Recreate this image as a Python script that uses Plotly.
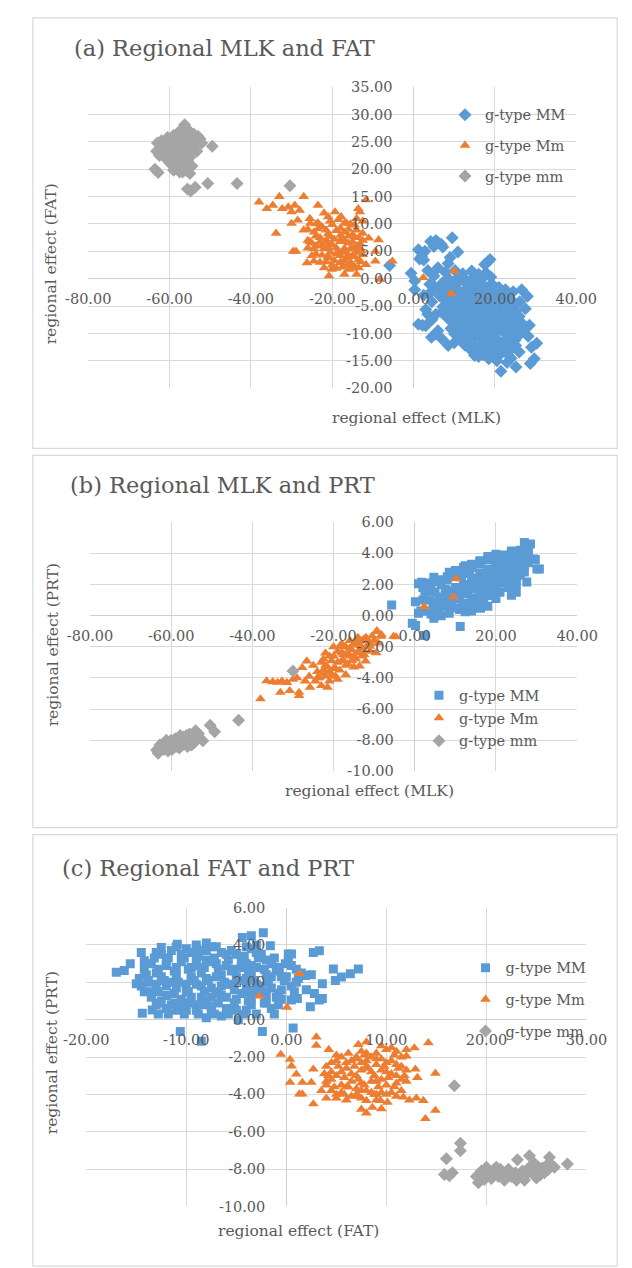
import plotly.graph_objects as go

W, H = 632, 1268

# ---------------- data ----------------
groups = ["g-type MM", "g-type Mm", "g-type mm"]

# panel (a): (MLK, FAT)
a_MM = [(1.2, 5.3), (2.0, 4.1), (2.8, 5.0), (1.5, 3.6), (2.5, 3.4), (4.2, 6.8), (5.5, 7.0), (6.8, 6.3),
        (5.0, 5.9), (7.2, 5.8), (6.0, 6.6), (9.5, 7.5), (10.9, 4.9), (9.0, 3.9), (8.5, 2.8), (-0.6, 1.0),
        (0.3, -0.4), (0.3, -2.0), (-5.9, 2.4), (1.2, -8.3), (2.2, -8.5), (3.0, -8.6), (4.4, -10.7),
        (5.5, -10.1), (3.0, -5.6), (3.5, -6.5), (4.5, -4.2), (2.5, -3.0), (5.2, -1.5), (4.0, -2.6),
        (18.3, 3.1), (18.8, 3.5), (17.5, 2.6), (21.5, -16.9), (25.2, -16.1), (28.7, -15.5), (29.7, -14.6),
        (30.3, -11.8), (29.0, -12.5), (28.0, -3.2), (26.6, -2.0), (27.5, -5.5), (28.5, -8.5), (27.0, -9.5),
        (28.2, -10.5), (20.5, -15.0), (23.0, -15.3), (18.5, -14.6), (16.0, -14.2), (26.0, -13.4),
        (24.0, -14.5), (6.0, -9.5), (7.0, -11.0), (8.5, -12.2), (10.0, -11.7),
        (7.8, 1.2), (10.2, 1.5), (12.1, 0.9), (14.3, 1.4), (16.0, 0.8), (17.8, 1.1),
        (7.1, -0.8), (9.2, -1.2), (11.0, -0.6), (13.2, -1.1), (15.1, -0.7), (17.3, -1.3), (19.2, -0.9), (21.0, -1.6),
        (6.4, -3.1), (8.5, -2.8), (10.3, -3.3), (12.2, -2.9), (14.0, -3.4), (16.1, -2.8), (18.0, -3.2),
        (20.2, -2.7), (22.3, -3.1), (24.5, -2.4),
        (7.2, -5.1), (9.1, -4.8), (11.2, -5.3), (13.0, -4.9), (15.2, -5.2), (17.1, -4.7), (19.0, -5.4),
        (21.1, -4.9), (23.2, -5.2), (25.0, -4.6),
        (8.1, -7.0), (10.0, -7.3), (12.3, -6.8), (14.1, -7.2), (16.2, -6.9), (18.1, -7.4), (20.0, -6.8),
        (22.2, -7.1), (24.1, -7.3), (26.0, -6.9),
        (9.2, -9.1), (11.1, -8.8), (13.0, -9.3), (15.1, -8.9), (17.0, -9.2), (19.2, -8.8), (21.1, -9.3),
        (23.0, -8.9), (25.2, -9.0),
        (11.2, -11.0), (13.1, -11.3), (15.0, -10.8), (17.2, -11.2), (19.1, -10.9), (21.0, -11.4),
        (23.1, -10.8), (25.0, -11.2),
        (14.1, -13.0), (16.2, -12.8), (18.0, -13.3), (20.1, -12.9), (22.0, -13.2), (24.1, -12.7),
        (9.0, -2.0), (11.5, -4.0), (13.5, -6.0), (15.5, -8.0), (17.5, -10.0), (19.5, -12.0), (12.5, 0.0),
        (16.5, -2.0), (18.5, -6.0), (20.5, -8.0), (22.5, -10.0), (14.5, -4.0), (10.5, -6.0), (12.0, -8.0),
        (16.0, -10.5), (21.5, -6.0), (23.5, -7.5),
        (8.5, 0.1), (10.6, -0.1), (14.6, 0.2), (16.6, -0.2), (19.0, 0.3),
        (7.6, -2.1), (10.6, -1.8), (12.6, -2.2), (14.4, -1.9), (18.6, -2.1), (20.4, -1.8), (22.6, -2.0),
        (8.0, -4.1), (10.1, -3.9), (12.6, -4.2), (16.0, -3.9), (18.1, -4.2), (20.0, -3.8), (22.1, -4.1),
        (24.0, -3.9), (26.1, -4.2),
        (7.0, -6.1), (9.1, -5.9), (11.6, -6.2), (15.5, -6.1), (17.0, -5.8), (19.6, -6.2), (23.0, -6.0),
        (25.1, -5.9),
        (9.6, -8.1), (11.0, -7.8), (13.6, -8.2), (17.5, -7.9), (19.1, -8.1), (22.0, -7.9), (24.6, -8.2),
        (26.5, -8.0),
        (10.1, -10.1), (12.1, -9.9), (14.1, -10.2), (18.6, -10.0), (20.1, -10.1), (24.0, -9.9), (26.1, -10.2),
        (12.6, -12.1), (14.6, -11.9), (16.6, -12.2), (18.6, -11.9), (21.0, -12.1), (23.0, -12.0), (25.1, -12.2),
        (15.0, -14.0), (17.1, -13.9), (19.0, -14.1), (21.0, -14.0), (23.1, -13.8),
        (3.5, 1.5), (5.0, 0.5), (6.0, 2.0), (4.0, -1.0), (6.5, -2.0), (5.5, -6.5), (4.5, -7.5)]

a_Mm = [(-38.0, 14.0), (-36.1, 12.8), (-34.6, 13.4), (-33.0, 15.0), (-27.0, 15.0), (-32.3, 12.8),
        (-30.8, 13.1), (-29.2, 13.4), (-30.0, 12.2), (-28.0, 12.5), (-33.8, 8.3), (-30.0, 10.1),
        (-28.5, 10.7), (-29.6, 5.0), (-28.9, 5.0), (-26.2, 2.9), (-27.0, 8.9), (-25.4, 10.1), (-23.5, 13.4),
        (-20.8, 0.5), (-19.3, 12.2), (-17.8, 11.3), (-13.6, 12.8), (-13.2, 12.2), (-11.7, 14.4),
        (-12.5, 8.3), (-11.0, 7.4), (-8.6, 7.1), (-9.4, 5.0), (-11.7, 2.6), (-9.4, 3.2), (-5.2, 3.2),
        (-14.0, 0.8), (-17.0, 0.8), (-20.1, 1.7), (-15.9, 1.7), (-8.3, -0.1), (-17.8, 2.9), (-22.0, 12.0),
        (-25.5, 11.0), (-24.0, 6.0), (-26.0, 7.0), (2.4, 0.2), (10.0, 1.4), (9.3, -2.7),
        (-24.5, 8.5), (-22.5, 9.5), (-20.5, 10.5), (-18.5, 10.8), (-16.5, 10.2), (-14.5, 9.8),
        (-25.0, 6.5), (-23.0, 7.5), (-21.0, 8.2), (-19.0, 8.8), (-17.0, 8.5), (-15.0, 8.0), (-13.5, 7.5),
        (-24.0, 4.5), (-22.0, 5.5), (-20.0, 6.2), (-18.0, 6.8), (-16.0, 6.5), (-14.0, 6.0), (-12.8, 5.2),
        (-23.0, 3.0), (-21.0, 3.8), (-19.0, 4.5), (-17.0, 4.8), (-15.0, 4.2), (-13.5, 3.5),
        (-20.0, 2.5), (-18.0, 3.0), (-16.0, 2.5), (-14.5, 2.2),
        (-21.5, 7.0), (-19.5, 7.2), (-17.5, 7.5), (-15.5, 5.5), (-18.5, 5.0), (-22.5, 6.0), (-20.5, 4.8),
        (-16.5, 3.8), (-14.0, 4.8), (-12.5, 10.5), (-14.0, 11.0), (-21.0, 11.3), (-23.5, 10.2),
        (-24.0, 10.0), (-20.0, 9.9), (-17.0, 10.1), (-15.5, 10.0),
        (-26.0, 9.0), (-23.5, 9.1), (-21.5, 8.9), (-18.0, 9.2), (-16.0, 9.0), (-14.0, 8.9),
        (-24.0, 7.8), (-20.5, 7.7), (-18.0, 7.9), (-16.0, 7.8), (-14.5, 7.6), (-12.5, 7.0),
        (-25.5, 6.8), (-23.0, 6.7), (-21.0, 6.5), (-17.0, 6.9), (-15.0, 6.7), (-13.2, 6.4),
        (-26.0, 5.6), (-24.5, 5.5), (-21.0, 5.7), (-19.0, 5.6), (-17.0, 5.5), (-15.0, 5.4), (-13.5, 5.7),
        (-25.0, 4.2), (-22.5, 4.3), (-21.0, 4.1), (-18.0, 4.2), (-16.0, 4.3), (-14.5, 4.0), (-12.5, 4.4),
        (-24.5, 3.2), (-21.5, 3.1), (-19.5, 3.3), (-17.0, 3.2), (-15.5, 3.0), (-13.0, 3.1),
        (-22.0, 2.0), (-19.0, 1.9), (-17.5, 2.1), (-15.0, 1.9), (-13.5, 2.0)]

a_mm = [(-56.3, 28.1), (-57.5, 27.0), (-55.5, 27.2), (-54.0, 26.4), (-53.0, 26.0), (-52.5, 25.5),
        (-63.2, 23.3), (-63.0, 24.8), (-62.0, 25.2), (-60.5, 25.8), (-59.0, 26.2), (-58.0, 25.5),
        (-56.5, 25.0), (-55.0, 25.5), (-54.5, 24.5), (-62.5, 22.5), (-61.5, 23.8), (-60.0, 24.2),
        (-58.5, 24.0), (-57.0, 23.5), (-55.5, 23.0), (-53.3, 23.3), (-61.0, 22.0), (-59.5, 22.8),
        (-58.0, 22.2), (-56.0, 22.5), (-52.1, 24.8), (-49.5, 24.2), (-63.6, 20.0), (-62.8, 19.4),
        (-59.8, 21.0), (-58.5, 21.3), (-57.0, 21.0), (-55.5, 21.4), (-54.5, 20.6), (-59.0, 19.8),
        (-57.5, 19.5), (-56.0, 19.8), (-55.0, 19.2), (-58.0, 20.3), (-56.5, 20.5), (-55.6, 16.4),
        (-54.8, 16.0), (-53.7, 16.7), (-50.6, 17.4), (-43.4, 17.4), (-30.4, 17.0),
        (-60.8, 24.8), (-59.5, 25.0), (-57.5, 24.8), (-56.0, 24.0), (-54.0, 23.8), (-62.0, 24.0),
        (-60.5, 23.0), (-58.5, 23.2), (-57.0, 22.4), (-55.0, 22.2), (-60.0, 21.8), (-58.8, 20.0),
        (-56.8, 19.5), (-55.8, 20.8), (-57.5, 26.0), (-56.0, 26.5), (-55.0, 26.8), (-54.0, 25.2)]

# panel (b): (MLK, PRT)
b_MM = [(-5.7, 0.68), (-0.6, -0.49), (0.2, -0.63), (2.4, -1.27), (11.2, -0.70), (30.1, 3.0), (29.7, 3.6),
        (25.0, 1.5), (25.0, 2.2), (30.7, 3.0), (29.2, 3.64), (0.9, 2.05), (0.15, 0.89), (0.9, 0.15),
        (4.7, -0.17), (1.7, 2.15), (2.5, 1.4), (3.0, 0.3), (4.7, 2.47), (8.5, 2.79), (12.4, 3.21),
        (16.2, 3.53), (20.0, 3.95), (23.8, 4.16), (27.6, 4.5), (27.0, 4.7), (28.5, 4.6), (8.5, 0.15),
        (12.4, 0.25), (16.2, 0.47), (20.0, 1.1), (23.8, 1.31), (27.6, 2.16), (6.5, 0.0), (14.0, 0.3),
        (18.0, 0.6),
        (3.5, 1.0), (5.0, 1.5), (6.5, 2.0), (8.0, 2.3), (10.0, 2.6), (12.0, 2.9), (14.0, 3.1), (16.0, 3.3),
        (18.0, 3.6), (20.0, 3.7), (22.0, 3.9), (24.0, 4.0), (26.0, 4.2),
        (4.5, 0.5), (6.0, 1.0), (8.0, 1.3), (10.0, 1.8), (12.0, 2.0), (14.0, 2.4), (16.0, 2.7), (18.0, 3.0),
        (20.0, 3.2), (22.0, 3.4), (24.0, 3.5), (26.0, 3.6), (28.0, 3.9),
        (7.0, 0.6), (9.0, 0.9), (11.0, 1.2), (13.0, 1.5), (15.0, 1.8), (17.0, 2.1), (19.0, 2.4), (21.0, 2.6),
        (23.0, 2.8), (25.0, 3.0), (27.0, 3.2),
        (10.0, 0.5), (12.0, 0.8), (14.0, 1.0), (16.0, 1.3), (18.0, 1.6), (20.0, 1.9), (22.0, 2.1),
        (24.0, 2.4), (26.0, 2.6), (15.0, 0.6), (17.0, 0.9), (19.0, 1.3), (21.0, 1.5), (23.0, 1.8),
        (5.5, 2.2), (7.5, 1.7), (9.5, 1.4), (11.5, 2.5), (13.5, 2.7), (15.5, 2.2), (17.5, 2.6), (19.5, 2.9),
        (21.5, 3.3), (23.5, 3.2), (25.5, 3.8), (3.5, 2.1), (2.0, 1.0), (1.5, 0.3),
        (4.0, 1.8), (6.0, 2.3), (8.0, 2.5), (10.0, 2.9), (12.0, 3.1), (14.0, 3.3), (16.0, 3.5), (18.0, 3.8),
        (20.0, 3.5), (22.0, 3.7), (24.0, 3.8), (26.0, 4.0), (28.0, 4.2), (27.0, 3.7),
        (5.0, 0.9), (7.0, 1.2), (9.0, 1.6), (11.0, 1.6), (13.0, 2.0), (15.0, 2.4), (17.0, 2.4), (19.0, 2.7),
        (21.0, 2.9), (23.0, 3.1), (25.0, 3.3), (27.0, 2.8),
        (8.0, 0.7), (10.0, 1.1), (12.0, 1.4), (14.0, 1.7), (16.0, 1.9), (18.0, 2.2), (20.0, 2.4), (22.0, 2.7),
        (24.0, 2.9), (26.0, 3.1), (28.0, 3.4),
        (11.0, 0.4), (13.0, 0.6), (15.0, 1.1), (17.0, 1.4), (19.0, 1.8), (21.0, 2.1), (23.0, 2.3), (25.0, 2.0),
        (3.0, 1.6), (2.0, 1.8), (4.0, 0.1), (6.0, 0.4)]

b_Mm = [(-38.0, -5.35), (-36.5, -4.19), (-35.0, -4.25), (-33.8, -4.29), (-32.7, -4.2), (-31.5, -4.3),
        (-33.1, -4.93), (-30.8, -4.82), (-28.5, -5.14), (-28.5, -4.93), (-26.6, -2.92), (-27.7, -3.34),
        (-25.8, -4.61), (-30.0, -4.1), (-29.0, -4.0), (-27.0, -4.2), (-26.0, -3.9), (-9.4, -1.02),
        (-8.3, -1.33), (-5.2, -1.33), (-9.0, -1.76), (-12.1, -2.92), (-13.6, -3.24), (-9.3, -0.97),
        (-4.6, -1.37), (-8.2, -1.23), (-9.5, -2.39), (-11.1, -1.97), (2.3, 0.57), (10.2, 2.37), (9.5, 1.2),
        (-25.0, -3.2), (-24.0, -3.6), (-23.0, -3.0), (-22.0, -3.9), (-21.0, -2.6), (-20.0, -3.4),
        (-19.0, -2.3), (-18.0, -2.9), (-17.0, -2.0), (-16.0, -2.6), (-15.0, -1.8), (-14.0, -2.3),
        (-13.0, -1.6), (-12.0, -2.0), (-24.5, -4.2), (-23.5, -4.0), (-22.5, -3.5), (-21.5, -3.3),
        (-20.5, -2.9), (-19.5, -3.9), (-18.5, -3.5), (-17.5, -2.5), (-16.5, -3.1), (-15.5, -2.2),
        (-14.5, -2.8), (-13.5, -1.9), (-12.5, -1.5), (-11.5, -1.6), (-22.0, -2.4), (-20.0, -2.0),
        (-18.0, -1.8), (-16.0, -1.6), (-14.0, -1.4), (-21.0, -4.2), (-19.0, -4.1), (-17.0, -3.8),
        (-15.0, -3.3), (-13.0, -2.6), (-11.0, -2.3), (-10.5, -1.3), (-23.0, -4.5), (-21.5, -4.6),
        (-24.0, -4.0), (-23.0, -3.7), (-22.0, -3.2), (-21.0, -3.6), (-20.0, -2.6), (-19.0, -3.0),
        (-18.0, -2.4), (-17.0, -3.2), (-16.0, -2.1), (-15.0, -2.6), (-14.0, -1.9), (-13.0, -2.1),
        (-12.0, -1.4), (-19.5, -3.4), (-17.5, -2.9), (-15.5, -2.9), (-13.5, -2.4), (-22.5, -2.8),
        (-20.5, -3.8), (-18.5, -2.0), (-16.5, -2.4), (-14.5, -1.6), (-11.0, -1.8), (-12.5, -2.5),
        (-10.0, -1.6)]

b_mm = [(-30.0, -3.55), (-43.4, -6.72), (-50.4, -7.04), (-49.3, -7.46), (-52.2, -8.04), (-63.6, -8.63),
        (-63.2, -8.84), (-62.5, -8.45), (-61.8, -8.6), (-61.0, -8.3), (-60.2, -8.5), (-59.5, -8.2),
        (-58.8, -8.4), (-58.0, -8.1), (-57.2, -8.3), (-56.5, -7.9), (-55.8, -8.1), (-55.0, -7.8),
        (-54.2, -7.9), (-53.5, -7.6), (-53.3, -7.57), (-54.0, -7.4), (-62.8, -8.3), (-61.2, -8.0),
        (-60.0, -8.0), (-59.0, -7.9), (-58.0, -8.5), (-57.0, -7.8), (-56.0, -8.4), (-55.5, -7.6),
        (-54.5, -8.2), (-60.8, -8.7), (-59.8, -8.6), (-57.8, -7.7), (-56.2, -7.7), (-55.0, -8.3),
        (-53.8, -8.0), (-61.5, -8.2), (-59.2, -8.1), (-57.5, -8.0), (-56.8, -8.2)]

# panel (c): (FAT, PRT)
c_MM = [(-17.0, 2.54), (-16.2, 2.63), (-15.6, 2.99), (-15.0, 1.93), (-14.7, 2.2), (-14.5, 3.6),
        (-14.2, 3.16), (-14.4, 0.34), (-13.4, 0.52), (-12.5, 3.87), (-10.9, 4.04), (-10.6, -0.63),
        (-8.5, -1.16), (-4.4, 4.4), (-3.5, 4.5), (-2.3, 4.66), (-1.6, 3.96), (-2.4, -0.63), (0.68, -0.45),
        (0.52, 3.51), (2.7, 3.6), (3.3, 3.69), (4.7, 2.72), (4.9, 2.1), (5.5, 2.28), (6.4, 2.46),
        (7.2, 2.72), (3.6, 1.93), (3.3, 1.05), (3.6, 1.13), (2.4, 0.69), (0.5, 1.05), (1.1, 1.13),
        (1.9, 2.37), (-0.7, 2.72), (-0.1, 2.99), (0.2, 3.51), (-8.0, 4.1), (-9.0, 4.0), (-7.5, 3.9),
        (-4.8, 0.0), (-6.5, 0.2), (-8.0, 0.1), (-3.0, 0.3),
        (-13.5, 1.5), (-13.0, 2.5), (-12.5, 1.0), (-12.0, 3.2), (-11.5, 2.0), (-11.0, 0.5), (-10.5, 3.5),
        (-10.0, 1.5), (-9.5, 2.8), (-9.0, 0.8), (-8.5, 3.7), (-8.0, 2.2), (-7.5, 1.2), (-7.0, 3.0),
        (-6.5, 1.8), (-6.0, 0.6), (-5.5, 2.6), (-5.0, 3.5), (-4.5, 1.4), (-4.0, 2.2), (-3.5, 0.8),
        (-3.0, 2.8), (-2.5, 1.8), (-2.0, 3.2), (-1.5, 2.3), (-1.0, 1.2), (-13.0, 0.8), (-12.0, 1.8),
        (-11.0, 2.8), (-10.0, 3.8), (-10.0, 0.5), (-9.0, 1.9), (-8.0, 3.2), (-8.0, 1.0), (-7.0, 2.3),
        (-6.0, 3.5), (-6.0, 1.2), (-5.0, 0.5), (-4.0, 3.0), (-3.0, 1.5), (-2.0, 0.9), (-1.0, 2.6),
        (-12.5, 3.5), (-11.5, 0.8), (-9.5, 1.2), (-7.5, 0.5), (-5.5, 1.9), (-4.5, 2.8), (-13.8, 2.0),
        (-9.0, 3.3), (-7.0, 1.5), (-3.5, 3.8), (0.0, 2.3), (1.0, 2.0), (2.0, 1.6), (-0.5, 1.6),
        (-13.0, 3.6), (-11.5, 3.7), (-9.5, 3.6), (-8.0, 3.7), (-6.5, 3.6), (-5.5, 3.7), (-3.0, 3.6),
        (-2.5, 3.5), (-13.5, 3.0), (-12.0, 2.9), (-10.5, 3.1), (-9.0, 2.9), (-7.5, 3.1), (-6.0, 2.9),
        (-4.5, 3.1), (-3.5, 2.9), (-1.5, 3.0), (0.5, 2.9), (-14.0, 2.4), (-12.5, 2.3), (-11.0, 2.4),
        (-9.5, 2.3), (-8.5, 2.5), (-6.5, 2.4), (-5.0, 2.3), (-3.5, 2.4), (-2.0, 2.4), (-0.5, 2.3),
        (1.5, 2.5), (2.5, 2.4), (-14.5, 1.8), (-13.0, 1.9), (-11.0, 1.7), (-10.0, 1.9), (-8.5, 1.8),
        (-7.5, 1.7), (-6.0, 1.9), (-4.0, 1.8), (-3.0, 1.9), (-1.5, 1.7), (0.5, 1.8), (-13.5, 1.2),
        (-12.0, 1.3), (-10.5, 1.1), (-8.5, 1.2), (-6.5, 1.3), (-5.0, 1.1), (-3.5, 1.2), (-2.0, 1.3),
        (-0.5, 1.1), (-12.0, 0.6), (-10.5, 0.7), (-9.0, 0.5), (-7.5, 0.7), (-5.5, 0.6), (-4.0, 0.5),
        (-1.5, 0.6),
        (-13.2, 3.3), (-11.8, 3.3), (-10.2, 3.3), (-8.8, 3.4), (-7.2, 3.3), (-5.8, 3.2), (-4.2, 3.4),
        (-2.8, 3.3), (-1.2, 3.3), (0.2, 3.2), (-14.2, 2.7), (-12.8, 2.7), (-11.2, 2.6), (-9.8, 2.7),
        (-8.2, 2.8), (-6.8, 2.7), (-5.2, 2.7), (-3.8, 2.6), (-2.2, 2.7), (-0.8, 2.8), (1.0, 2.7),
        (-13.8, 2.1), (-12.2, 2.1), (-10.8, 2.0), (-9.2, 2.1), (-7.8, 2.1), (-6.2, 2.0), (-4.8, 2.1),
        (-3.2, 2.1), (-1.8, 2.0), (-0.2, 2.1), (1.2, 2.2), (-14.2, 1.5), (-12.8, 1.5), (-11.2, 1.4),
        (-9.8, 1.5), (-8.2, 1.5), (-6.8, 1.4), (-5.2, 1.6), (-3.8, 1.5), (-2.2, 1.5), (-0.8, 1.4),
        (0.8, 1.5), (2.8, 1.4), (-12.8, 0.9), (-11.2, 0.9), (-9.8, 0.9), (-8.2, 0.8), (-6.8, 0.9),
        (-5.2, 0.9), (-3.8, 1.0), (-2.2, 0.9), (-0.8, 0.8), (-11.8, 0.3), (-10.2, 0.3), (-8.8, 0.3),
        (-7.2, 0.3), (-5.8, 0.3), (-4.2, 0.3), (-1.2, 0.3), (-12.8, 0.3), (-11.0, 3.9), (-9.0, 3.8),
        (-7.0, 3.9), (-4.0, 3.9), (-3.0, 4.0)]

c_Mm = [(-0.56, -1.86), (3.0, -0.93), (3.0, -1.38), (0.37, -2.13), (0.52, -2.48), (0.37, -3.36),
        (1.0, -2.92), (1.6, -3.36), (1.3, -3.98), (1.6, -3.98), (2.7, -4.51), (2.5, -3.36), (2.7, -2.65),
        (4.24, -1.6), (7.2, -1.33), (12.8, -1.51), (12.0, -1.6), (14.2, -1.24), (12.0, -1.95),
        (12.9, -2.65), (13.1, -3.1), (14.9, -2.87), (11.7, -4.15), (12.3, -4.3), (13.0, -4.2),
        (13.7, -4.33), (13.9, -5.3), (14.9, -4.86), (7.5, -4.8), (8.0, -5.0), (8.6, -4.7), (8.0, -4.33),
        (9.5, -4.77), (9.4, -4.33), (10.1, -4.42), (1.3, 2.46), (-2.7, 1.26), (0.06, 0.66),
        (3.5, -3.8), (4.0, -2.5), (4.5, -3.2), (5.0, -1.9), (5.0, -4.0), (5.5, -2.8), (6.0, -3.6),
        (6.5, -2.2), (6.5, -4.1), (7.0, -3.0), (7.5, -1.7), (7.5, -3.8), (8.0, -2.5), (8.5, -3.3),
        (9.0, -1.8), (9.0, -4.0), (9.5, -2.7), (10.0, -1.6), (10.0, -3.5), (10.5, -2.2), (11.0, -3.0),
        (11.0, -1.7), (11.5, -3.8), (11.5, -2.5), (4.0, -3.5), (5.0, -3.0), (6.0, -2.6), (7.0, -2.0),
        (8.0, -1.8), (9.0, -2.4), (10.0, -2.8), (6.0, -4.3), (7.0, -4.0), (8.5, -3.9), (10.5, -3.9),
        (3.8, -2.9), (5.5, -3.5), (7.5, -2.7), (9.5, -3.2), (11.0, -3.4), (12.0, -3.3), (8.0, -1.2),
        (9.5, -1.4), (10.5, -1.5),
        (5.5, -2.0), (7.0, -2.1), (8.5, -2.0), (9.5, -2.1), (11.5, -2.0), (4.5, -2.8), (6.5, -2.9),
        (8.5, -2.8), (10.5, -2.9), (12.0, -2.7), (4.0, -3.3), (6.5, -3.3), (7.5, -3.4), (9.0, -3.3),
        (11.5, -3.2), (4.5, -3.8), (5.5, -3.9), (7.0, -3.7), (8.0, -3.8), (9.5, -3.9), (10.0, -4.0),
        (4.0, -4.2), (5.0, -4.2), (7.5, -4.2), (9.0, -4.3), (4.5, -2.3), (6.0, -2.3), (7.5, -2.3),
        (10.0, -2.3), (11.0, -2.4),
        (6.2, -1.8), (7.8, -1.9), (10.8, -1.9), (5.2, -2.5), (6.8, -2.5), (8.2, -2.6), (9.8, -2.5),
        (11.2, -2.6), (4.2, -3.0), (5.8, -3.1), (7.2, -3.2), (8.8, -3.0), (10.2, -3.1), (11.8, -3.0),
        (4.8, -3.6), (6.2, -3.6), (7.8, -3.5), (9.2, -3.6), (10.8, -3.6), (5.8, -4.0), (7.2, -4.1),
        (8.8, -4.0), (11.0, -4.1), (5.0, -2.2), (8.0, -2.2), (9.0, -2.1)]

c_mm = [(16.8, -3.53), (16.0, -7.44), (17.4, -6.61), (17.4, -7.02), (15.8, -8.29), (16.6, -8.2),
        (16.3, -8.35), (19.2, -8.73), (19.0, -8.4), (19.5, -8.1), (20.0, -7.9), (20.3, -8.3), (20.8, -8.0),
        (21.2, -8.4), (21.0, -7.9), (19.8, -8.55), (20.5, -8.2), (21.6, -8.2), (22.0, -8.29), (22.5, -8.4),
        (22.9, -8.2), (23.3, -8.4), (23.6, -8.1), (24.0, -8.3), (24.3, -7.9), (24.6, -8.1), (25.0, -8.47),
        (25.2, -7.9), (25.6, -7.94), (26.0, -7.8), (26.3, -7.37), (26.5, -7.76), (26.8, -7.9),
        (23.1, -7.5), (24.3, -7.28), (28.1, -7.72), (25.8, -8.2), (23.0, -8.6), (21.8, -8.6),
        (20.5, -8.5), (21.4, -8.0), (22.2, -8.0), (23.8, -8.6), (24.8, -7.7), (25.4, -8.3), (26.2, -8.0),
        (19.3, -8.3)]

# axis ticks
a_xticks = [-80, -60, -40, -20, 0, 20, 40]
a_yticks = [35, 30, 25, 20, 15, 10, 5, 0, -5, -10, -15, -20]
b_xticks = [-80, -60, -40, -20, 0, 20, 40]
b_yticks = [6, 4, 2, 0, -2, -4, -6, -8, -10]
c_xticks = [-20, -10, 0, 10, 20, 30]
c_yticks = [6, 4, 2, 0, -2, -4, -6, -8, -10]

titles = ["(a) Regional MLK and FAT", "(b) Regional MLK and PRT", "(c) Regional FAT and PRT"]
xtitles = ["regional effect (MLK)", "regional effect (MLK)", "regional effect (FAT)"]
ytitles = ["regional effect (FAT)", "regional effect (PRT)", "regional effect (PRT)"]

# ---------------- styling ----------------
COLORS = ["#5B9BD5", "#ED7D31", "#A5A5A5"]
FONT = "DejaVu Serif"
TXT = "#595959"
GRID = "#d9d9d9"

def px_x(x):
    return x / W

def px_y(y):
    return 1 - y / H

# plot areas in pixels: (left, right, top, bottom)
areas = [(61.5, 586, 72, 377), (63.4, 587, 512.7, 765), (59.4, 597, 903, 1205.7)]
ranges = [((-80, 40), (-20, 35)), ((-80, 40), (-10, 6)), ((-20, 30), (-10, 6))]
ticks = [(a_xticks, a_yticks), (b_xticks, b_yticks), (c_xticks, c_yticks)]
data = [(a_MM, a_Mm, a_mm), (b_MM, b_Mm, b_mm), (c_MM, c_Mm, c_mm)]
symbols = [("diamond", "triangle-up", "diamond"), ("square", "triangle-up", "diamond"),
           ("square", "triangle-up", "diamond")]
sizes = {"diamond": 10, "square": 9, "triangle-up": 9.5}

legend_text_x = [485, 457, 507]
legend_rows = [(100, 131, 162), (688, 711, 734), (964, 996, 1028)]
title_pos = [(44, 32), (40, 475), (31.5, 863)]
xtitle_pos = [(414, 407), (364, 785), (287, 1231)]
ytitle_pos = [(21, 251), (24, 637), (22, 1050)]
boxes = [(2, 630, 2, 438), (2, 630, 445, 822), (2, 630, 829, 1266)]

fig = go.Figure()
layout = dict(width=W, height=H, margin=dict(l=0, r=0, t=0, b=0),
              paper_bgcolor="white", plot_bgcolor="white", showlegend=True,
              font=dict(family=FONT, color=TXT))
annotations = []
shapes = []

leg_i = 0
for p in range(3):
    L, R, T, B = areas[p]
    dx = [px_x(L), px_x(R)]
    dy = [px_y(B), px_y(T)]
    (x0, x1), (y0, y1) = ranges[p]
    xt, yt = ticks[p]
    sfx = "" if p == 0 else str(p + 1)
    xpos = dy[0] + (0 - y0) / (y1 - y0) * (dy[1] - dy[0])
    ypos = dx[0] + (0 - x0) / (x1 - x0) * (dx[1] - dx[0])
    layout["xaxis" + sfx] = dict(domain=dx, range=[x0, x1], anchor="free", position=xpos,
                                 tickvals=xt, ticktext=[f"{v:.2f}" for v in xt],
                                 showgrid=True, gridcolor=GRID, gridwidth=1,
                                 zeroline=True, zerolinecolor="#cfcfcf", zerolinewidth=1,
                                 showline=False, ticks="", ticklabelstandoff=10,
                                 tickfont=dict(family=FONT, size=14.5, color=TXT), fixedrange=True)
    layout["yaxis" + sfx] = dict(domain=dy, range=[y0, y1], anchor="free", position=ypos,
                                 tickvals=yt, ticktext=[f"{v:.2f}" for v in yt],
                                 showgrid=True, gridcolor=GRID, gridwidth=1,
                                 zeroline=True, zerolinecolor="#cfcfcf", zerolinewidth=1,
                                 showline=False, ticks="", ticklabelstandoff=21,
                                 tickfont=dict(family=FONT, size=14.5, color=TXT), fixedrange=True)
    for g in range(3):
        pts = data[p][g]
        leg_i += 1
        lname = "legend" if leg_i == 1 else f"legend{leg_i}"
        sym = symbols[p][g]
        fig.add_trace(go.Scatter(
            x=[q[0] for q in pts], y=[q[1] for q in pts], mode="markers", name=groups[g],
            xaxis="x" + sfx, yaxis="y" + sfx, legend=lname,
            marker=dict(symbol=sym, size=sizes[sym], color=COLORS[g], line=dict(width=0))))
        layout[lname] = dict(x=px_x(legend_text_x[p] - 40), y=px_y(legend_rows[p][g]),
                             xanchor="left", yanchor="middle", bgcolor="rgba(0,0,0,0)",
                             borderwidth=0, itemsizing="trace",
                             font=dict(family=FONT, size=14.5, color=TXT))
    tx, ty = title_pos[p]
    annotations.append(dict(text=titles[p], x=px_x(tx), y=px_y(ty), xref="paper", yref="paper",
                            xanchor="left", yanchor="middle", showarrow=False,
                            font=dict(family=FONT, size=22.5, color=TXT)))
    ax, ay = xtitle_pos[p]
    annotations.append(dict(text=xtitles[p], x=px_x(ax), y=px_y(ay), xref="paper", yref="paper",
                            xanchor="center", yanchor="middle", showarrow=False,
                            font=dict(family=FONT, size=15.5, color=TXT)))
    yx, yy = ytitle_pos[p]
    annotations.append(dict(text=ytitles[p], x=px_x(yx), y=px_y(yy), xref="paper", yref="paper",
                            xanchor="center", yanchor="middle", showarrow=False, textangle=-90,
                            font=dict(family=FONT, size=15.5, color=TXT)))
    bl, br, bt, bb = boxes[p]
    shapes.append(dict(type="rect", xref="paper", yref="paper", x0=px_x(bl), x1=px_x(br),
                       y0=px_y(bb), y1=px_y(bt), line=dict(color="#d9d9d9", width=1.2),
                       fillcolor="rgba(0,0,0,0)", layer="below"))

layout["annotations"] = annotations
layout["shapes"] = shapes
fig.update_layout(**layout)
fig.write_html("out.html")
